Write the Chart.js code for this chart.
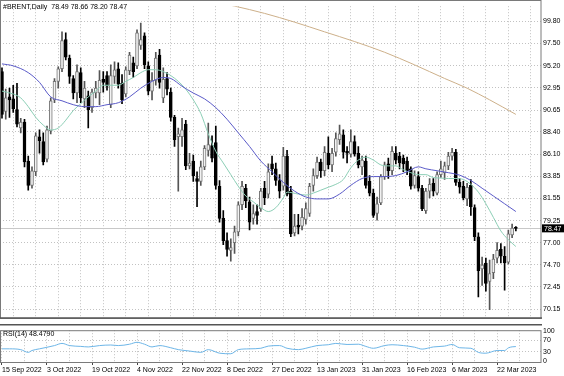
<!DOCTYPE html>
<html>
<head>
<meta charset="utf-8">
<script src="https://cdn.jsdelivr.net/npm/chart.js@4.4.1/dist/chart.umd.min.js"></script>
<style>
  html, body { margin: 0; padding: 0; background: #fff; }
  #wrap { position: relative; width: 564px; height: 376px; overflow: hidden; }
  canvas { position: absolute; left: 0; }
  #mainChart { top: 0; }
  #rsiChart { top: 324px; }
</style>
</head>
<body>
<div id="wrap">
  <canvas id="mainChart" width="564" height="324"></canvas>
  <canvas id="rsiChart" width="564" height="52"></canvas>
</div>
<script>
// ==================== DATA ====================

const symbolName = '#BRENT';
const timeframe = 'Daily';

// daily candles, 15 Sep 2022 .. 29 Mar 2023 (bar index 0..137)
const opens = [
  94.6, 90.5, 92.0, 91.8, 90.7, 88.8, 89.4, 85.4, 82.9, 84.3, 87.9, 87.4, 85.6, 88.5, 91.7, 93.6, 94.9, 97.9, 96.0, 93.9,
  92.4, 94.5, 91.8, 92.1, 90.9, 92.4, 92.4, 93.8, 94.2, 91.2, 94.1, 94.9, 93.4, 92.3, 94.7, 95.5, 95.2, 97.3, 98.3, 95.2,
  92.6, 93.7, 96.3, 91.9, 93.9, 92.5, 89.9, 87.9, 87.9, 89.2, 84.9, 85.4, 83.6, 83.3, 84.8, 86.5, 87.0, 87.3, 82.8, 79.5,
  77.2, 76.2, 77.0, 78.1, 80.9, 82.6, 81.2, 79.5, 80.2, 80.5, 82.6, 82.0, 85.1, 84.6, 83.4, 82.8, 85.9, 82.3, 78.0, 78.8,
  78.7, 79.4, 80.0, 82.9, 83.9, 85.3, 84.4, 86.2, 85.0, 86.3, 87.6, 88.1, 86.4, 86.1, 87.4, 86.2, 84.8, 85.4, 83.3, 82.1,
  80.0, 81.1, 83.8, 85.1, 84.4, 86.2, 85.9, 85.7, 85.4, 84.6, 82.9, 83.8, 82.6, 80.3, 82.3, 83.1, 82.1, 84.0, 84.2, 84.9,
  85.9, 86.3, 83.2, 82.8, 81.5, 82.9, 80.6, 77.6, 74.3, 74.9, 73.0, 73.9, 75.4, 76.3, 75.6, 75.0, 77.8, 78.49
];
const highs = [
  95.0, 92.8, 92.9, 93.2, 93.4, 89.8, 89.7, 85.9, 84.8, 88.3, 88.6, 88.3, 89.0, 91.9, 93.9, 95.1, 98.7, 98.6, 96.3, 94.2,
  95.3, 95.0, 93.6, 92.6, 92.8, 93.6, 94.7, 94.6, 94.6, 95.3, 95.6, 95.5, 94.3, 95.1, 96.6, 96.1, 98.9, 99.6, 98.6, 95.6,
  94.5, 96.6, 96.9, 95.0, 94.5, 92.9, 90.1, 88.8, 89.8, 89.6, 86.2, 86.0, 84.3, 85.4, 87.0, 89.3, 88.0, 89.0, 83.4, 80.3,
  78.0, 77.4, 78.7, 81.2, 83.3, 83.0, 81.7, 80.9, 80.9, 82.6, 83.3, 85.1, 85.9, 85.2, 84.0, 86.8, 86.5, 82.8, 79.9, 79.9,
  80.5, 81.1, 83.1, 84.6, 85.8, 85.6, 86.9, 87.9, 86.7, 88.3, 89.1, 88.6, 86.9, 88.6, 88.0, 86.9, 85.9, 85.9, 83.9, 82.5,
  81.7, 84.0, 85.3, 85.7, 86.9, 86.9, 86.3, 86.0, 85.8, 84.8, 84.4, 84.3, 82.9, 82.6, 83.6, 83.6, 84.3, 85.4, 85.3, 86.3,
  86.7, 86.6, 83.6, 83.3, 83.1, 83.5, 80.9, 78.0, 75.5, 75.4, 75.2, 75.8, 77.0, 76.9, 76.6, 78.3, 78.9, 78.66
];
const lows = [
  89.8, 89.7, 89.9, 90.4, 88.9, 88.3, 84.8, 82.4, 82.6, 83.9, 86.2, 85.0, 85.3, 88.2, 91.4, 92.9, 94.6, 95.8, 93.4, 91.8,
  91.4, 91.4, 90.9, 88.8, 90.4, 91.9, 91.2, 92.5, 92.7, 90.9, 93.4, 92.9, 91.3, 92.0, 94.3, 94.0, 94.9, 96.9, 94.9, 92.2,
  91.7, 93.2, 92.9, 91.4, 92.2, 89.5, 86.9, 82.3, 86.9, 84.5, 84.6, 83.3, 80.7, 82.9, 84.5, 85.9, 85.3, 82.5, 79.1, 76.8,
  75.6, 75.1, 75.9, 77.7, 80.4, 80.6, 78.3, 78.9, 78.9, 80.2, 80.9, 81.6, 84.0, 82.9, 81.6, 82.4, 81.8, 77.6, 77.7, 77.9,
  78.3, 78.9, 79.7, 82.3, 83.6, 83.7, 83.9, 84.6, 84.3, 85.9, 87.1, 85.7, 85.2, 85.8, 85.9, 84.7, 84.0, 82.6, 81.8, 79.6,
  79.3, 80.9, 83.5, 83.6, 84.0, 85.1, 84.6, 84.3, 84.0, 82.5, 82.6, 82.3, 80.3, 80.0, 81.6, 81.8, 81.9, 83.7, 83.5, 84.5,
  85.5, 82.9, 82.1, 81.4, 80.8, 79.8, 77.2, 71.4, 72.6, 72.0, 70.1, 73.3, 74.9, 74.9, 72.1, 74.8, 77.5, 78.20
];
const closes = [
  90.2, 91.9, 91.7, 90.8, 89.2, 89.4, 85.3, 82.9, 84.4, 88.0, 87.5, 85.3, 88.6, 91.6, 93.6, 94.9, 97.8, 96.1, 94.1, 92.4,
  94.6, 91.9, 92.9, 90.7, 92.5, 92.9, 93.7, 93.5, 93.1, 94.2, 94.8, 93.3, 91.7, 94.8, 96.3, 94.6, 98.6, 97.9, 95.3, 92.6,
  93.7, 96.0, 93.5, 93.8, 92.8, 89.9, 87.6, 88.2, 88.6, 84.9, 85.2, 83.9, 83.3, 84.8, 86.7, 87.1, 85.7, 82.9, 79.5, 77.2,
  76.3, 76.5, 78.1, 80.9, 82.8, 81.3, 79.1, 80.0, 79.8, 82.3, 81.6, 84.3, 84.6, 83.4, 82.3, 85.9, 82.0, 77.9, 78.7, 78.6,
  79.6, 80.5, 82.8, 83.9, 85.3, 84.4, 86.3, 85.0, 86.2, 87.7, 88.2, 86.3, 86.2, 87.4, 86.1, 85.0, 85.5, 82.9, 82.1, 79.8,
  81.0, 83.8, 85.0, 84.4, 86.4, 85.5, 85.2, 85.1, 84.4, 82.8, 83.9, 82.6, 80.5, 82.3, 83.0, 82.3, 84.0, 84.6, 84.9, 85.9,
  86.3, 83.2, 82.7, 81.6, 82.7, 80.7, 77.6, 74.1, 74.7, 72.8, 73.8, 75.3, 76.2, 75.6, 74.9, 77.9, 78.5, 78.47
];

// moving averages, read at sample bars
const maFastBars = [0, 3, 5, 7, 9, 11, 13, 15, 17, 19, 21, 23, 25, 27, 29, 31, 33, 35, 37, 39, 41, 43, 45, 47, 49, 51, 53, 55,
  57, 59, 61, 63, 65, 67, 69, 71, 73, 75, 76, 79, 81, 83, 85, 87, 89, 91, 93, 95, 97, 99, 101, 103, 105, 107, 109, 111, 113,
  115, 117, 119, 121, 123, 125, 127, 129, 131, 133, 135, 137];
const maFastValues = [92.6, 92.3, 91.9, 91.0, 89.9, 89.1, 88.6, 88.8, 89.6, 90.6, 91.3, 92.0, 92.6, 93.2, 93.2, 93.2, 93.6,
  94.0, 94.5, 94.8, 94.8, 94.6, 94.2, 93.6, 92.8, 91.7, 90.3, 88.2, 86.4, 85.2, 84.0, 82.8, 81.8, 81.2, 80.6, 80.2, 80.6,
  81.6, 82.2, 82.0, 81.9, 82.1, 82.4, 82.7, 83.0, 83.5, 84.7, 85.5, 85.8, 85.5, 85.0, 84.9, 84.9, 84.5, 84.2, 84.0, 84.0,
  83.7, 83.65, 83.6, 83.6, 83.5, 83.0, 82.2, 81.0, 79.6, 78.2, 77.3, 76.6];

const maSlowBars = [0, 3, 7, 10, 13, 16, 19, 22, 25, 28, 31, 34, 37, 40, 43, 45, 48, 51, 54, 57, 60, 63, 66, 69, 72, 75, 78,
  81, 84, 87, 90, 93, 96, 99, 102, 105, 108, 111, 113, 116, 119, 122, 125, 128, 131, 134, 137];
const maSlowValues = [95.4, 95.2, 94.5, 93.5, 92.0, 91.6, 91.2, 91.0, 91.0, 91.2, 91.4, 92.0, 92.9, 93.6, 94.0, 93.9, 93.1,
  92.4, 91.8, 90.9, 89.7, 88.3, 86.9, 85.4, 84.3, 83.2, 82.3, 81.7, 81.5, 81.5, 82.0, 82.9, 83.6, 83.8, 83.8, 83.9, 84.3,
  84.8, 84.6, 84.4, 84.2, 83.95, 83.4, 82.6, 81.8, 81.0, 80.2];

const maLongBars = [54, 62, 70, 78, 86, 94, 102, 110, 118, 124, 130, 137];
const maLongValues = [102.0, 101.35, 100.6, 99.7, 98.7, 97.7, 96.6, 95.3, 93.9, 92.9, 91.7, 90.2];

// RSI(14), read at sample bars
const rsiBars = [0, 2, 5, 7, 8, 10, 14, 16, 18, 21, 23, 26, 29, 31, 34, 36, 38, 40, 42, 45, 47, 50, 53, 55, 58, 61, 63, 66,
  69, 71, 74, 76, 79, 81, 84, 87, 89, 92, 95, 97, 99, 102, 104, 107, 110, 112, 115, 118, 120, 122, 125, 127, 129, 132, 134,
  135, 136, 137];
const rsiValues = [40.7, 40.7, 38.0, 28.7, 35.1, 40.7, 51.8, 59.2, 51.8, 49.0, 47.2, 51.8, 53.7, 51.8, 56.4, 62.9, 56.4,
  47.2, 51.8, 44.4, 38.0, 33.3, 28.7, 38.0, 25.9, 24.0, 38.0, 40.7, 42.6, 50.0, 51.8, 42.6, 38.0, 42.6, 51.8, 54.6, 59.2,
  55.5, 56.4, 49.0, 42.6, 51.8, 54.6, 51.8, 46.3, 39.8, 47.2, 50.0, 55.5, 44.4, 42.6, 28.7, 25.9, 35.1, 35.1, 44.0, 47.5,
  48.479];

// axis ticks
const priceTicks = [99.80, 97.50, 95.20, 92.95, 90.65, 88.40, 86.10, 83.85, 81.55, 79.25, 77.00, 74.70, 72.45, 70.15];
const rsiTicks = [0, 30, 70, 100];
const labelBars = [0, 12, 24, 36, 48, 60, 72, 84, 96, 108, 120, 132];
const dateLabels = ['15 Sep 2022', '3 Oct 2022', '19 Oct 2022', '4 Nov 2022', '22 Nov 2022', '8 Dec 2022',
  '27 Dec 2022', '13 Jan 2023', '31 Jan 2023', '16 Feb 2023', '6 Mar 2023', '22 Mar 2023'];

// ==================== LAYOUT ====================

const fontFamily = '"Liberation Sans", Arial, sans-serif';
const fontSize = 7;
const gridColor = '#c2c2c2';
const frameColor = '#7a7a7a';
const xMin = -0.53, xMax = 143.7;
const priceMin = 69.26, priceMax = 101.34;
const axisWidth = 23;

const lastIdx = closes.length - 1;
const gridBars = [];
for (let b = 0; b <= 138; b += 6) gridBars.push(b);

const toPoints = (bars, vals) => bars.map((b, i) => ({ x: b, y: vals[i] }));
const isBull = i => closes[i] >= opens[i];

// white background
const bgPlugin = {
    id: 'bg',
    beforeDraw(chart) {
        const c = chart.ctx;
        c.save();
        c.fillStyle = '#fff';
        c.fillRect(0, 0, chart.width, chart.height);
        c.restore();
    }
};

// frame, header text and bid line for the price panel
const mainDeco = {
    id: 'mainDeco',
    beforeDatasetsDraw(chart) {
        const c = chart.ctx, a = chart.chartArea;
        const y = Math.round(chart.scales.y.getPixelForValue(closes[lastIdx])) + 0.5;
        c.save();
        c.strokeStyle = '#c8c8c8';
        c.lineWidth = 1;
        c.beginPath();
        c.moveTo(a.left, y);
        c.lineTo(a.right, y);
        c.stroke();
        c.restore();
    },
    afterDraw(chart) {
        const c = chart.ctx, a = chart.chartArea;
        c.save();
        c.strokeStyle = frameColor;
        c.lineWidth = 1;
        c.strokeRect(0.5, 0.5, a.right - 0.5, a.bottom);
        c.fillStyle = '#555';
        c.fillRect(0, a.bottom - 0.5, a.right + 1, 1.5);

        c.font = fontSize + 'px ' + fontFamily;
        c.fillStyle = '#000';
        c.textBaseline = 'middle';
        const head = symbolName + ',' + timeframe + '  ' + opens[lastIdx].toFixed(2) + ' ' +
            highs[lastIdx].toFixed(2) + ' ' + lows[lastIdx].toFixed(2) + ' ' + closes[lastIdx].toFixed(2);
        c.fillText(head, 3, 7);

        // current price tag
        const y = chart.scales.y.getPixelForValue(closes[lastIdx]);
        c.fillStyle = '#000';
        c.fillRect(a.right + 1, y - 4, 22, 8);
        c.fillStyle = '#fff';
        c.fillText(closes[lastIdx].toFixed(2), a.right + 3, y + 0.5);
        c.restore();
    }
};

const rsiDeco = {
    id: 'rsiDeco',
    afterDraw(chart) {
        const c = chart.ctx, a = chart.chartArea;
        c.save();
        c.strokeStyle = frameColor;
        c.lineWidth = 1;
        c.strokeRect(0.5, a.top + 0.5, a.right - 0.5, a.bottom - a.top);
        c.fillStyle = '#555';
        c.fillRect(0, 0, a.right + 1, 1.5);
        c.font = fontSize + 'px ' + fontFamily;
        c.fillStyle = '#000';
        c.textBaseline = 'middle';
        c.fillText('RSI(14) ' + rsiValues[rsiValues.length - 1].toFixed(4), 3, a.top + 4);
        c.restore();
    }
};

// ==================== PRICE PANEL ====================

const wickData = highs.map((h, i) => ({ x: i, y: [lows[i], h] }));
const bodyData = opens.map((o, i) => ({ x: i, y: [o, closes[i]] }));

new Chart(document.getElementById('mainChart'), {
    type: 'bar',
    data: {
        datasets: [
            {
                type: 'line', data: toPoints(maLongBars, maLongValues),
                borderColor: '#cdb08a', borderWidth: 1, pointRadius: 0,
                cubicInterpolationMode: 'monotone', order: 0
            },
            {
                type: 'line', data: toPoints(maSlowBars, maSlowValues),
                borderColor: '#5b5bc9', borderWidth: 1, pointRadius: 0,
                cubicInterpolationMode: 'monotone', order: 0
            },
            {
                type: 'line', data: toPoints(maFastBars, maFastValues),
                borderColor: '#8ccfb6', borderWidth: 1, pointRadius: 0,
                cubicInterpolationMode: 'monotone', order: 0
            },
            {
                data: bodyData,
                backgroundColor: ctx => isBull(ctx.dataIndex) ? '#f2f2f2' : '#000000',
                borderColor: ctx => isBull(ctx.dataIndex) ? '#767676' : '#000000',
                borderWidth: 1,
                borderSkipped: false,
                barThickness: 3,
                minBarLength: 1,
                grouped: false,
                order: 1
            },
            {
                data: wickData,
                backgroundColor: ctx => isBull(ctx.dataIndex) ? '#555' : '#000',
                barThickness: 1,
                grouped: false,
                order: 2
            }
        ]
    },
    options: {
        responsive: false,
        animation: false,
        devicePixelRatio: 1,
        events: [],
        layout: { padding: { left: 0, right: 0, top: 0, bottom: 1 } },
        plugins: { legend: { display: false }, tooltip: { enabled: false } },
        scales: {
            x: {
                type: 'linear', min: xMin, max: xMax, offset: false,
                afterBuildTicks: s => { s.ticks = gridBars.map(v => ({ value: v })); },
                ticks: { display: false },
                grid: { color: gridColor, drawTicks: false },
                border: { display: false, dash: [1, 2] }
            },
            y: {
                position: 'right', min: priceMin, max: priceMax,
                afterBuildTicks: s => { s.ticks = priceTicks.map(v => ({ value: v })); },
                afterFit: s => { s.width = axisWidth; },
                ticks: {
                    color: '#000', padding: 2, autoSkip: false,
                    font: { family: fontFamily, size: fontSize },
                    callback: v => v.toFixed(2)
                },
                grid: { color: gridColor, drawTicks: false },
                border: { display: false, dash: [1, 2] }
            }
        }
    },
    plugins: [bgPlugin, mainDeco]
});

// ==================== RSI PANEL ====================

new Chart(document.getElementById('rsiChart'), {
    type: 'line',
    data: {
        datasets: [{
            data: toPoints(rsiBars, rsiValues),
            borderColor: '#6db6e8', borderWidth: 1, pointRadius: 0,
            cubicInterpolationMode: 'monotone'
        }]
    },
    options: {
        responsive: false,
        animation: false,
        devicePixelRatio: 1,
        events: [],
        layout: { padding: { left: 0, right: 0, top: 2, bottom: 0 } },
        plugins: { legend: { display: false }, tooltip: { enabled: false } },
        scales: {
            x: {
                type: 'linear', min: xMin, max: xMax, offset: false,
                afterBuildTicks: s => { s.ticks = gridBars.map(v => ({ value: v })); },
                afterFit: s => { s.height = 14; },
                ticks: {
                    color: '#000', padding: 1, align: 'start',
                    autoSkip: false, maxRotation: 0, minRotation: 0,
                    font: { family: fontFamily, size: fontSize },
                    callback: v => {
                        const k = labelBars.indexOf(v);
                        return k >= 0 ? dateLabels[k] : '';
                    }
                },
                grid: {
                    color: gridColor, tickLength: 3,
                    tickColor: ctx => labelBars.includes(ctx.tick && ctx.tick.value) ? '#444' : 'rgba(0,0,0,0)'
                },
                border: { display: false, dash: [1, 2] }
            },
            y: {
                position: 'right', min: -4, max: 104,
                afterBuildTicks: s => { s.ticks = rsiTicks.map(v => ({ value: v })); },
                afterFit: s => { s.width = axisWidth; },
                ticks: {
                    color: '#000', padding: 2, autoSkip: false,
                    font: { family: fontFamily, size: fontSize },
                    callback: v => String(v)
                },
                grid: {
                    drawTicks: false,
                    color: ctx => (ctx.tick && (ctx.tick.value === 30 || ctx.tick.value === 70)) ? gridColor : 'rgba(0,0,0,0)'
                },
                border: { display: false, dash: [1, 2] }
            }
        }
    },
    plugins: [bgPlugin, rsiDeco]
});
</script>
</body>
</html>
